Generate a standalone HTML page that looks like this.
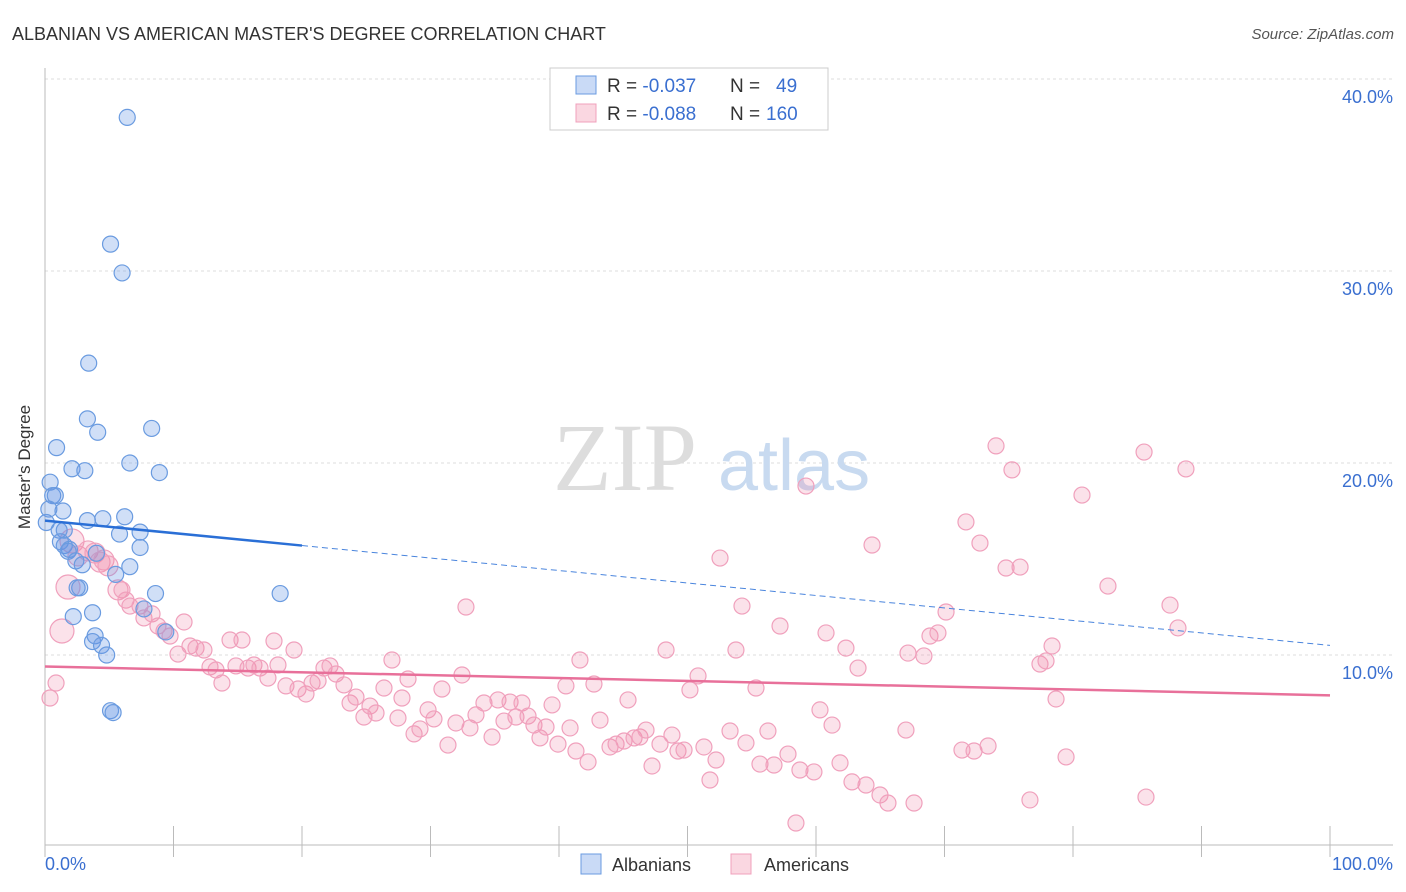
<!DOCTYPE html>
<html><head><meta charset="utf-8"><style>
body{margin:0;background:#fff;font-family:"Liberation Sans",sans-serif}
svg{display:block}
</style></head><body>
<svg id="chart" width="1406" height="892">
<text x="12" y="40" font-size="18" fill="#333">ALBANIAN VS AMERICAN MASTER'S DEGREE CORRELATION CHART</text>
<text x="1394" y="39" font-size="15" fill="#555" font-style="italic" text-anchor="end">Source: ZipAtlas.com</text>
<g id="grid"></g>
<g><text x="553" y="490" font-size="96" font-family="Liberation Serif,serif" fill="#ddd">ZIP</text><text x="718" y="490" font-size="72" fill="#c8daf0">atlas</text></g>
<line x1="45" y1="68" x2="45" y2="845" stroke="#bbb"/>
<line x1="45" y1="845" x2="1393" y2="845" stroke="#bbb"/>
<g id="xticks"></g>
<text x="18" y="455" font-size="17" fill="#333" transform="rotate(-90 30 455)" text-anchor="middle">Master's Degree</text>
<text x="45" y="870" font-size="18" fill="#3a6fd0">0.0%</text>
<text x="1393" y="870" font-size="18" fill="#3a6fd0" text-anchor="end">100.0%</text>
<g id="pts"></g>
<g id="lines"></g>
<g>
<rect x="550" y="68" width="278" height="62" fill="#fff" stroke="#ccc"/>
<rect x="576" y="76" width="20" height="18" fill="rgba(100,150,230,0.35)" stroke="#6a9be0"/>
<rect x="576" y="104" width="20" height="18" fill="rgba(240,140,170,0.35)" stroke="#f0a0bc"/>
<text x="607" y="92" font-size="19" fill="#333">R = <tspan fill="#3a6fd0">-0.037</tspan><tspan x="730">N =</tspan><tspan x="776" fill="#3a6fd0">49</tspan></text>
<text x="607" y="120" font-size="19" fill="#333">R = <tspan fill="#3a6fd0">-0.088</tspan><tspan x="730">N =</tspan><tspan x="766" fill="#3a6fd0">160</tspan></text>
</g>
<g>
<rect x="581" y="854" width="20" height="20" fill="rgba(100,150,230,0.35)" stroke="#6a9be0"/>
<text x="612" y="871" font-size="18" fill="#333">Albanians</text>
<rect x="731" y="854" width="20" height="20" fill="rgba(240,140,170,0.35)" stroke="#f0a0bc"/>
<text x="764" y="871" font-size="18" fill="#333">Americans</text>
</g>
</svg>
<script>
const yTicks=[10,20,30,40];
const yTickLabels=["10.0%","20.0%","30.0%","40.0%"];
const blueX=[6.4,5.1,6.0,3.4,3.3,4.1,8.3,0.9,2.1,3.1,6.6,8.9,0.4,0.6,0.8,0.3,1.4,3.3,4.5,6.2,0.1,1.1,1.5,5.8,7.4,1.2,1.5,1.9,1.8,4.0,7.4,2.4,2.9,5.5,6.6,2.7,2.5,8.6,18.3,2.2,3.7,7.7,9.4,3.9,3.7,4.4,4.8,5.1,5.3];
const blueY=[38.0,31.4,29.9,25.2,22.3,21.6,21.8,20.8,19.7,19.6,20.0,19.5,19.0,18.3,18.3,17.6,17.5,17.0,17.1,17.2,16.9,16.5,16.5,16.3,16.4,15.9,15.7,15.5,15.4,15.3,15.6,14.9,14.7,14.2,14.6,13.5,13.5,13.2,13.2,12.0,12.2,12.4,11.2,11.0,10.7,10.5,10.0,7.1,7.0];
const pinkX=[0.39,0.86,1.32,1.79,2.10,2.57,3.35,3.89,4.28,4.59,4.90,5.68,5.99,6.30,6.61,7.39,7.70,8.33,8.79,9.26,9.73,10.35,10.82,11.28,11.75,12.37,12.84,13.31,13.77,14.40,14.86,15.33,15.80,16.26,16.73,17.35,17.82,18.13,18.75,19.38,19.69,20.31,20.78,21.25,21.71,22.18,22.65,23.27,23.74,24.20,24.82,25.29,25.76,26.38,27.00,27.47,27.78,28.25,28.72,29.18,29.81,30.27,30.89,31.36,31.98,32.45,32.76,33.07,33.54,34.16,34.79,35.25,35.72,36.19,36.65,37.12,37.59,38.05,38.52,38.99,39.46,39.92,40.54,40.86,41.32,41.63,42.26,42.72,43.19,43.97,44.44,45.06,45.37,45.84,46.30,46.77,47.24,47.86,48.33,48.79,49.26,49.73,50.19,50.82,51.28,51.75,52.22,52.53,53.31,53.77,54.24,54.55,55.33,55.64,56.26,56.73,57.20,57.82,58.44,58.75,59.22,59.84,60.31,60.78,61.25,61.87,62.33,62.80,63.27,63.89,64.36,64.98,65.60,67.00,67.16,67.63,68.40,68.87,69.49,70.12,71.36,71.67,72.30,72.76,73.39,74.01,74.79,75.25,75.88,76.65,77.43,77.90,78.37,78.68,79.46,80.70,82.72,85.53,85.68,87.55,88.17,88.79];
const pinkY=[7.76,8.54,11.25,13.54,15.94,15.16,15.42,15.31,14.84,14.95,14.64,13.39,13.39,12.86,12.55,12.55,11.93,12.14,11.51,11.25,10.99,10.05,11.72,10.47,10.36,10.26,9.38,9.22,8.54,10.78,9.43,10.78,9.32,9.48,9.32,8.80,10.73,9.48,8.39,10.26,8.23,7.97,8.54,8.65,9.32,9.43,9.01,8.44,7.50,7.81,6.77,7.34,6.98,8.28,9.74,6.72,7.76,8.75,5.89,6.15,7.14,6.67,8.23,5.31,6.46,8.96,12.50,6.20,6.88,7.50,5.73,7.66,6.56,7.55,6.77,7.50,6.82,6.35,5.68,6.25,7.40,5.36,8.39,6.20,5.00,9.74,4.43,8.49,6.61,5.21,5.36,5.52,7.66,5.68,5.73,6.09,4.22,5.36,10.26,5.83,5.00,5.05,8.18,8.91,5.21,3.49,4.53,15.05,6.04,10.26,12.55,5.42,8.28,4.32,6.04,4.27,11.51,4.84,1.25,4.01,18.80,3.91,7.14,11.15,6.35,4.38,10.36,3.39,9.32,3.23,15.73,2.71,2.29,6.09,10.10,2.29,9.95,10.99,11.15,12.24,5.05,16.93,5.00,15.83,5.26,20.89,14.53,19.64,14.58,2.45,9.53,9.69,10.47,7.71,4.69,18.33,13.59,20.57,2.60,12.60,11.41,19.69];
const X0=45,X1=1330,Y0=847,PY=19.2;
function sx(v){return X0+(X1-X0)*v/100}
function sy(v){return Y0-PY*v}
const NS="http://www.w3.org/2000/svg";
const grid=document.getElementById('grid');
yTicks.forEach((t,i)=>{
 const l=document.createElementNS(NS,'line');
 l.setAttribute('x1',45);l.setAttribute('x2',1393);l.setAttribute('y1',sy(t));l.setAttribute('y2',sy(t));
 l.setAttribute('stroke','#ddd');l.setAttribute('stroke-dasharray','3,3');
 
 
 grid.appendChild(l);
 const tx=document.createElementNS(NS,'text');
 tx.setAttribute('x',1393);tx.setAttribute('y',sy(t)+24);tx.setAttribute('text-anchor','end');
 tx.setAttribute('font-size','18');tx.setAttribute('fill','#3a6fd0');tx.textContent=yTickLabels[i];
 
 
 grid.appendChild(tx);
});
const xt=document.getElementById('xticks');
for(let i=0;i<=10;i++){
 const l=document.createElementNS(NS,'line');
 const x=sx(i*10);
 l.setAttribute('x1',x);l.setAttribute('x2',x);l.setAttribute('y1',826);l.setAttribute('y2',857);l.setAttribute('stroke','#bbb');
 
 
 xt.appendChild(l);
}
const pts=document.getElementById('pts');
pinkX.forEach((v,i)=>{
 const c=document.createElementNS(NS,'circle');
 c.setAttribute('cx',sx(v));c.setAttribute('cy',sy(pinkY[i]));c.setAttribute('r',(i>=2&&i<=4)?12:(i<12&&i>4?10:8));
 c.setAttribute('fill','rgba(240,140,170,0.25)');c.setAttribute('stroke','#f0a0bc');c.setAttribute('stroke-width','1.2');
 
 
 pts.appendChild(c);
});
blueX.forEach((v,i)=>{
 const c=document.createElementNS(NS,'circle');
 c.setAttribute('cx',sx(v));c.setAttribute('cy',sy(blueY[i]));c.setAttribute('r',8);
 c.setAttribute('fill','rgba(100,150,230,0.3)');c.setAttribute('stroke','#6a9be0');c.setAttribute('stroke-width','1.2');
 
 
 pts.appendChild(c);
});
const lines=document.getElementById('lines');
function ln(x1,y1,x2,y2,col,w,dash,name){
 const l=document.createElementNS(NS,'line');
 l.setAttribute('x1',sx(x1));l.setAttribute('y1',sy(y1));l.setAttribute('x2',sx(x2));l.setAttribute('y2',sy(y2));
 l.setAttribute('stroke',col);l.setAttribute('stroke-width',w);if(dash)l.setAttribute('stroke-dasharray',dash);
 
 
 lines.appendChild(l);
}
const blueTrend=[17.0,10.5],pinkTrend=[9.4,7.9];
const bAt=x=>blueTrend[0]+(blueTrend[1]-blueTrend[0])*x/100;
ln(0,bAt(0),20,bAt(20),'#2a6fd6',2.5,null,'albanian-trend-line');
ln(20,bAt(20),100,bAt(100),'#4a85dd',1,'6,4','albanian-trend-extension');
ln(0,pinkTrend[0],100,pinkTrend[1],'#e8709a',2.5,null,'american-trend-line');
</script>
</body></html>
